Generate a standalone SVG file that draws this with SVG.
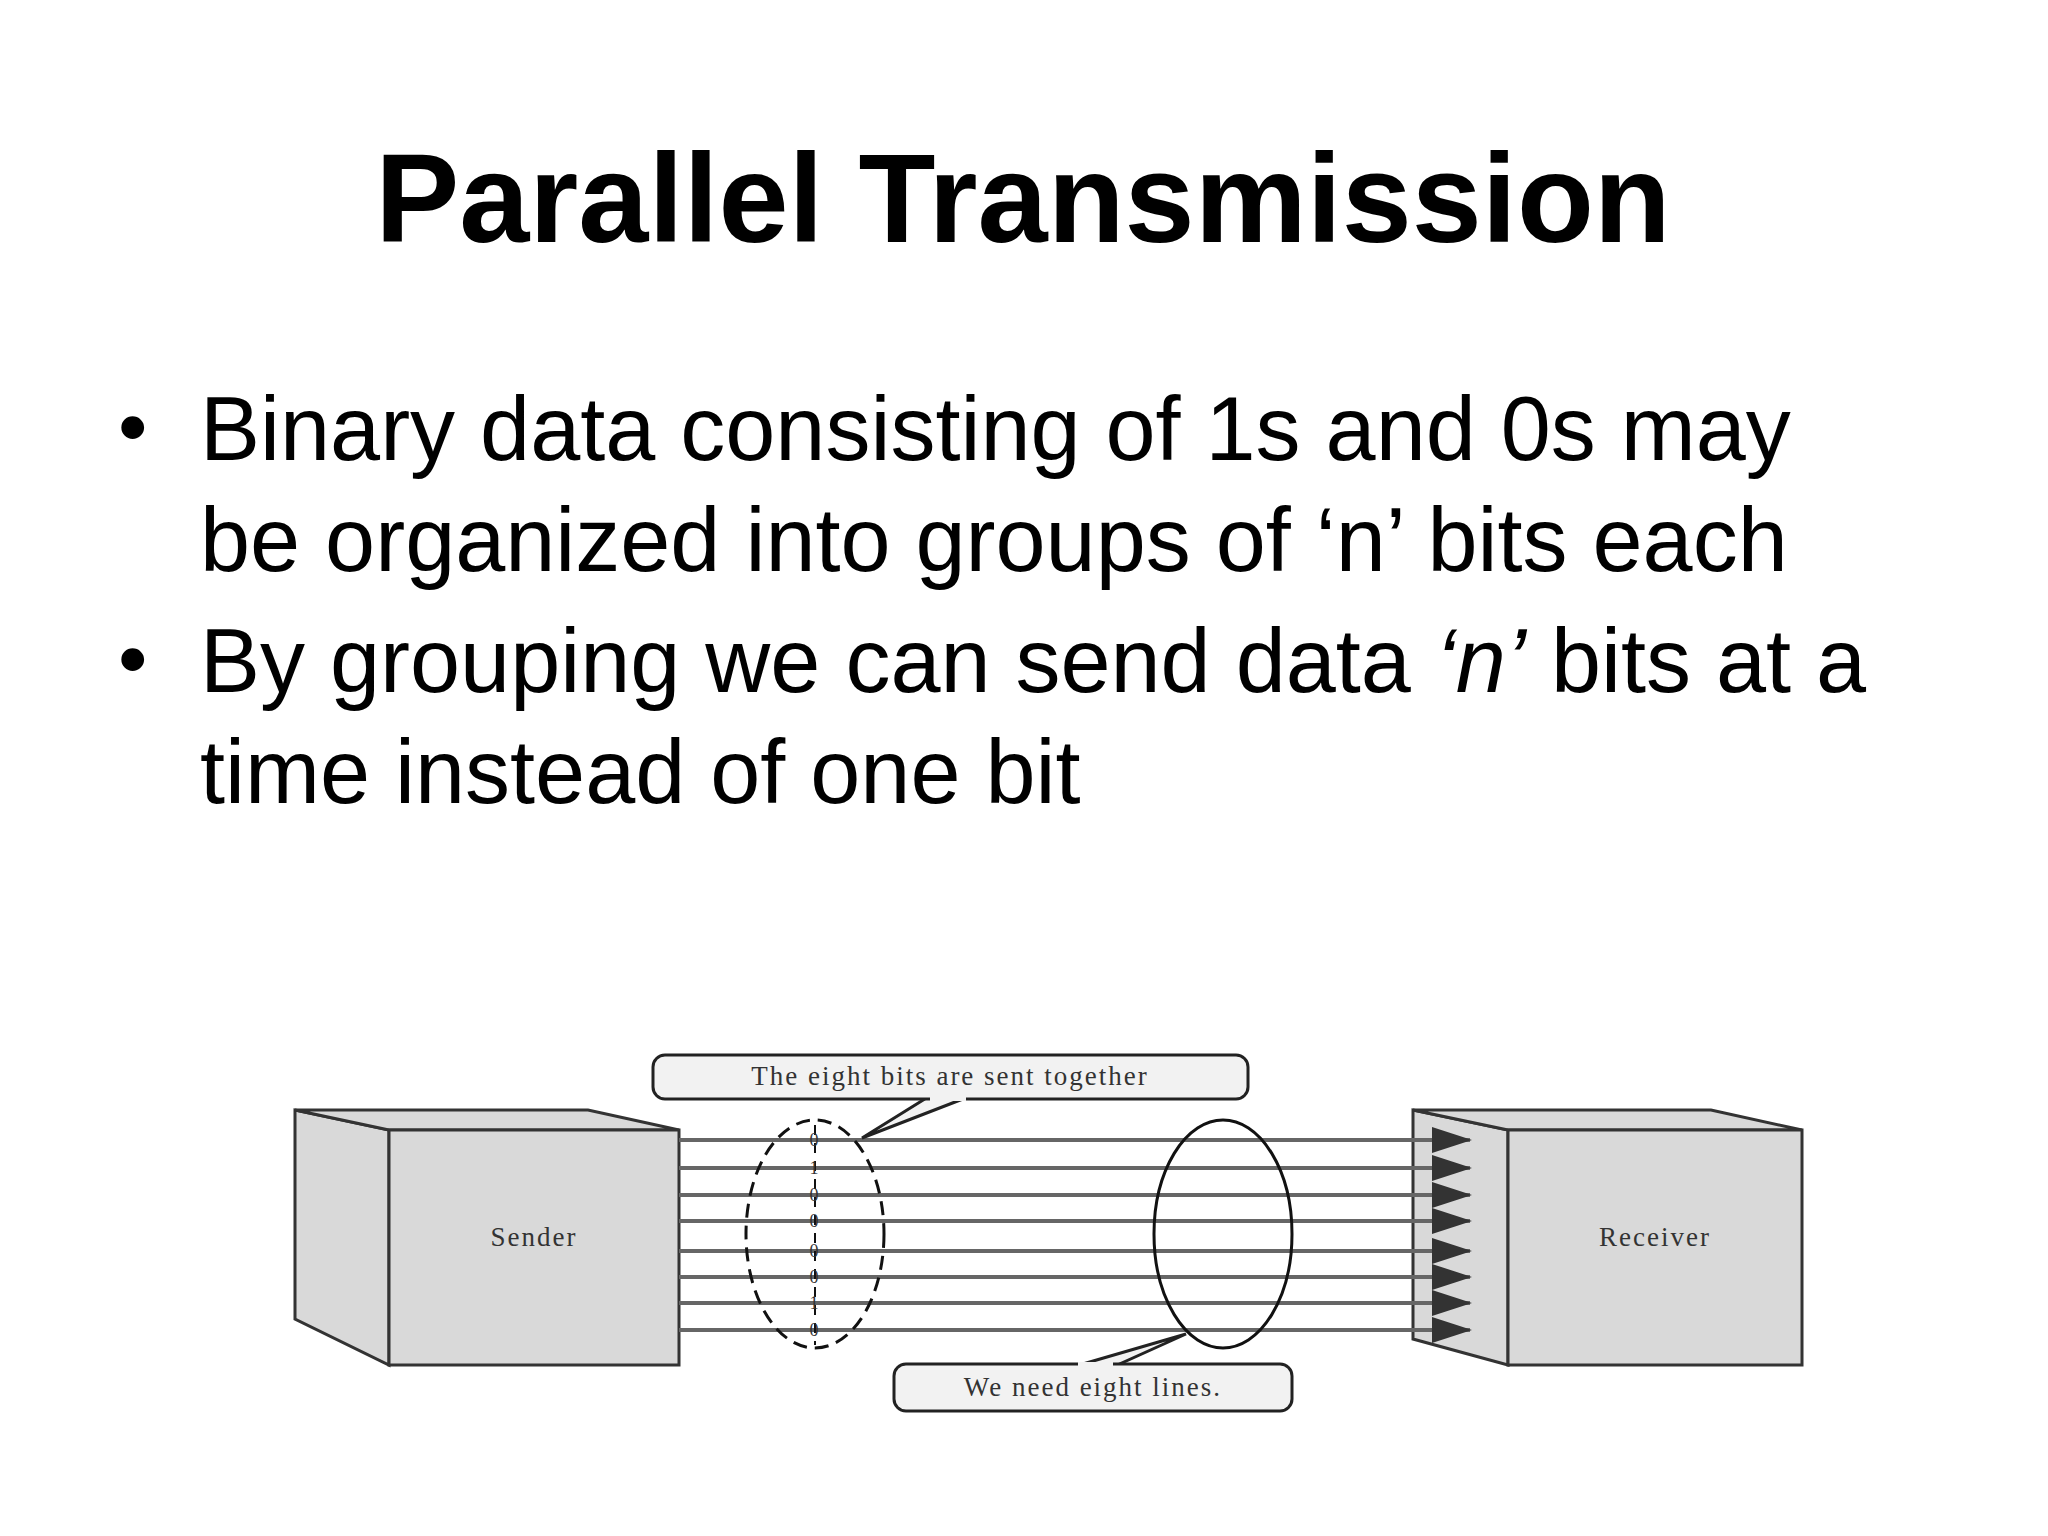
<svg xmlns="http://www.w3.org/2000/svg" width="2048" height="1536" viewBox="0 0 2048 1536">
<style>
.t{font-family:"Liberation Sans",Arial,sans-serif;fill:#000}
.box{fill:#d9d9d9;stroke:#333;stroke-width:3}
.ln{stroke:#666;stroke-width:4}
.lbl{font-family:"Liberation Serif","Times New Roman",serif;fill:#333;letter-spacing:2px}
.call{fill:#f2f2f2;stroke:#222;stroke-width:3}
</style>
<defs>
<marker id="ah" markerWidth="40" markerHeight="26" refX="38" refY="13" orient="auto" markerUnits="userSpaceOnUse"><path d="M0,0 L40,13 L0,26 Z" fill="#333"/></marker>
</defs>
<rect width="2048" height="1536" fill="#fff"/>
<text class="t" x="1023" y="242" font-size="126" font-weight="bold" text-anchor="middle">Parallel Transmission</text>
<g class="t" font-size="90">
<text x="118" y="455" font-size="84">•</text>
<text x="200" y="460">Binary data consisting of 1s and 0s may</text>
<text x="200" y="571">be organized into groups of ‘n’ bits each</text>
<text x="118" y="687" font-size="84">•</text>
<text x="200" y="692">By grouping we can send data <tspan font-style="italic">‘n’</tspan> bits at a</text>
<text x="200" y="803">time instead of one bit</text>
</g>
<g id="sender">
<polygon class="box" points="295,1110 389,1130 389,1365 295,1319"/>
<polygon class="box" points="295,1110 588,1110 679,1130 389,1130"/>
<rect class="box" x="389" y="1130" width="290" height="235"/>
<text class="lbl" x="534" y="1246" font-size="27" text-anchor="middle">Sender</text>
</g>
<g id="receiver">
<polygon class="box" points="1413,1110 1508,1130 1508,1365 1413,1339"/>
<polygon class="box" points="1413,1110 1711,1110 1802,1130 1508,1130"/>
<rect class="box" x="1508" y="1130" width="294" height="235"/>
<text class="lbl" x="1655" y="1246" font-size="27" text-anchor="middle">Receiver</text>
</g>
<g id="connectors">
<g class="ln" marker-end="url(#ah)">
<line x1="679" y1="1140" x2="1470" y2="1140"/>
<line x1="679" y1="1168" x2="1470" y2="1168"/>
<line x1="679" y1="1195" x2="1470" y2="1195"/>
<line x1="679" y1="1221" x2="1470" y2="1221"/>
<line x1="679" y1="1251" x2="1470" y2="1251"/>
<line x1="679" y1="1277" x2="1470" y2="1277"/>
<line x1="679" y1="1303" x2="1470" y2="1303"/>
<line x1="679" y1="1330" x2="1470" y2="1330"/>
</g>
</g>
<g id="bits">
<ellipse cx="815" cy="1234" rx="69" ry="114" fill="none" stroke="#111" stroke-width="3" stroke-dasharray="14,8"/>
<line x1="815" y1="1125" x2="815" y2="1345" stroke="#111" stroke-width="2" stroke-dasharray="10,8"/>
<g class="lbl" font-size="18" text-anchor="middle" fill="#222">
<text x="815" y="1146">0</text><text x="815" y="1174">1</text><text x="815" y="1201">0</text><text x="815" y="1227">0</text>
<text x="815" y="1257">0</text><text x="815" y="1283">0</text><text x="815" y="1309">1</text><text x="815" y="1336">0</text>
</g>
</g>
<g id="lines-ellipse">
<ellipse cx="1223" cy="1234" rx="69" ry="114" fill="none" stroke="#111" stroke-width="3"/>
</g>
<g id="callout-top">
<polygon points="928,1097 968,1097 862,1138" fill="#f2f2f2" stroke="#222" stroke-width="3"/>
<rect class="call" x="653" y="1055" width="595" height="44" rx="12"/>
<line x1="930" y1="1099" x2="966" y2="1099" stroke="#f2f2f2" stroke-width="4"/>
<text class="lbl" x="950" y="1085" font-size="27" text-anchor="middle">The eight bits are sent together</text>
</g>
<g id="callout-bottom">
<polygon points="1076,1366 1115,1366 1186,1334" fill="#f2f2f2" stroke="#222" stroke-width="3"/>
<rect class="call" x="894" y="1364" width="398" height="47" rx="12"/>
<line x1="1078" y1="1364" x2="1113" y2="1364" stroke="#f2f2f2" stroke-width="4"/>
<text class="lbl" x="1093" y="1396" font-size="27" text-anchor="middle">We need eight lines.</text>
</g>
</svg>
